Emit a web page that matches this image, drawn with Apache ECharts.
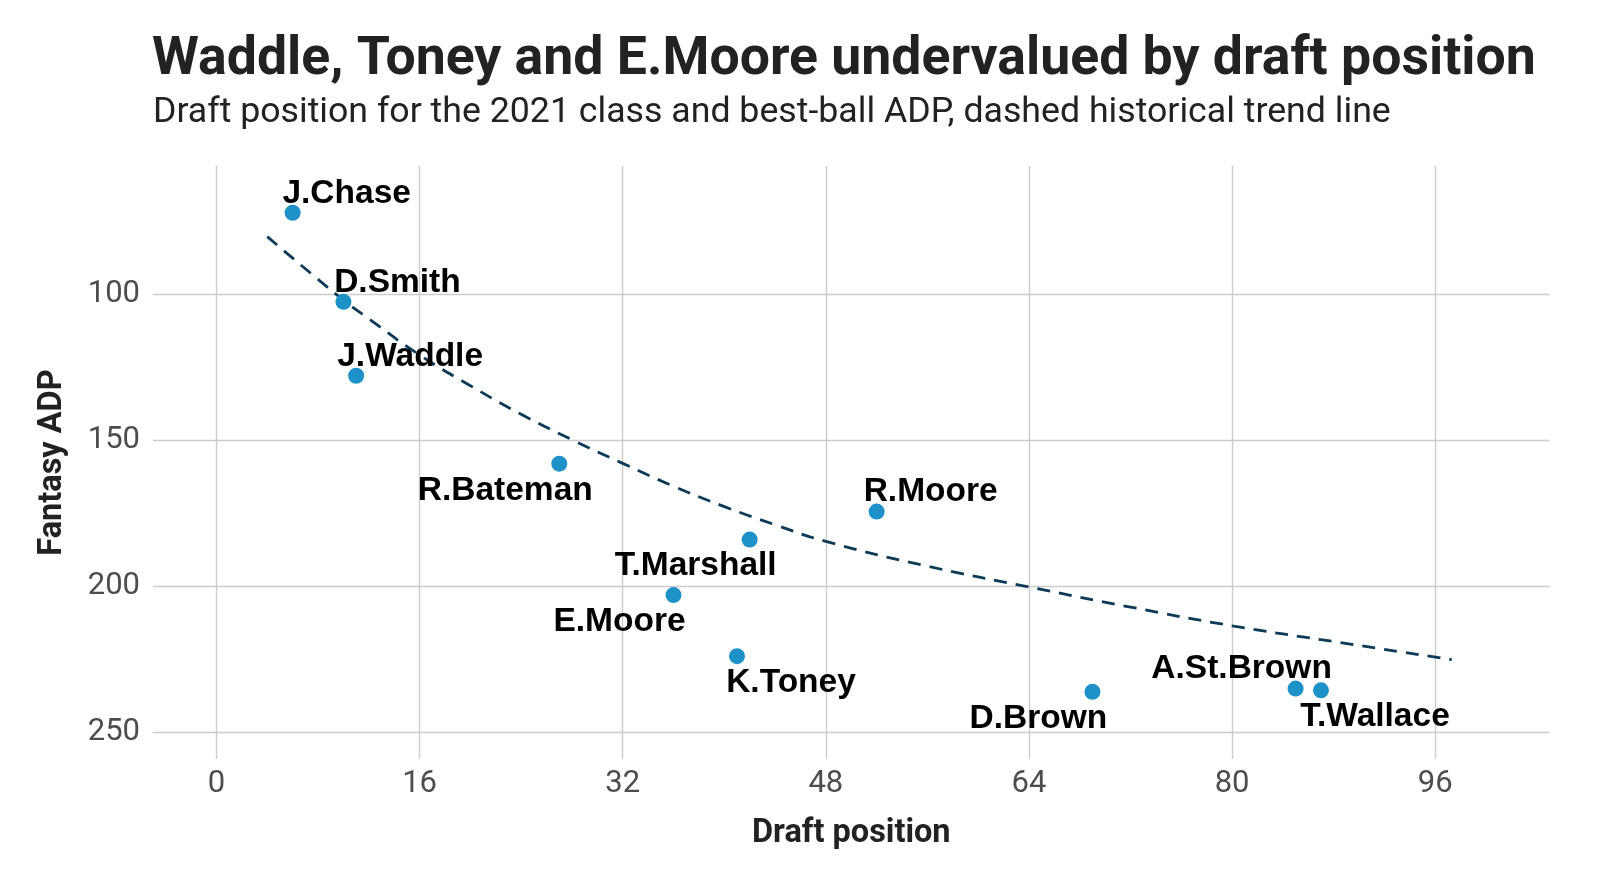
<!DOCTYPE html>
<html>
<head>
<meta charset="utf-8">
<script src="https://cdn.jsdelivr.net/npm/echarts@6/dist/echarts.min.js"></script>
<style>
  html, body { margin: 0; padding: 0; background: #ffffff; }
  #chart { width: 1600px; height: 896px; }
</style>
</head>
<body>
<div id="chart"></div>
<script>
// ---- Data ----
const players      = ['J.Chase', 'D.Smith', 'J.Waddle', 'R.Bateman', 'R.Moore', 'T.Marshall', 'E.Moore', 'K.Toney', 'D.Brown', 'A.St.Brown', 'T.Wallace'];
const draftPos     = [6, 10, 11, 27, 52, 42, 36, 41, 69, 85, 87];
const fantasyADP   = [72, 102.5, 127.8, 157.9, 174.3, 183.9, 202.9, 223.8, 236, 234.9, 235.5];

// dashed historical trend line
const trendX = [4, 8, 10, 12, 16, 20, 24, 28, 32, 36, 40, 44, 48, 56, 64, 72, 80, 88, 97.3];
const trendY = [80.2, 94.8, 101.9, 108.3, 120.7, 131.2, 141, 149.7, 157.8, 165.6, 172.6, 178.8, 184.5, 193, 200.1, 207, 213.4, 218.8, 225];

const xTicks = [0, 16, 32, 48, 64, 80, 96];
const yTicks = [100, 150, 200, 250];

// ---- Label placement (style, kept separate from data) ----
const labelSide = ['ne', 'ne', 'ne', 'sw', 'ne', 'sw', 'sw', 'se', 'sw', 'nw', 'se'];
const sideOffset = { ne: [54, -19.4], nw: [-54, -19.4], se: [54, 26.6], sw: [-54, 26.6] };

const pointData = players.map((p, i) => ({ name: p, value: [draftPos[i], fantasyADP[i]] }));
const trendData = trendX.map((x, i) => [x, trendY[i]]);

const chart = echarts.init(document.getElementById('chart'), null, { renderer: 'canvas' });

const tickFont = { color: '#4d4d4d', fontFamily: 'Roboto', fontSize: 31 };
const gridLine = { show: true, lineStyle: { color: '#cccccc', width: 1.4 } };

chart.setOption({
  backgroundColor: '#ffffff',
  animation: false,
  title: [
    {
      text: 'Waddle, Toney and E.Moore undervalued by draft position',
      left: 147, top: 29,
      textStyle: { fontFamily: 'Roboto', fontWeight: 'bold', fontSize: 53.6, color: '#222222' }
    },
    {
      text: 'Draft position for the 2021 class and best-ball ADP, dashed historical trend line',
      left: 148, top: 90,
      textStyle: { fontFamily: 'Roboto', fontWeight: 'normal', fontSize: 35.7, color: '#222222' }
    }
  ],
  grid: { left: 153, right: 50.5, top: 166, bottom: 137, containLabel: false },
  xAxis: {
    type: 'value',
    min: -5, max: 105,
    name: 'Draft position',
    nameLocation: 'middle',
    nameGap: 58,
    nameTextStyle: { fontFamily: 'Roboto', fontWeight: 'bold', fontSize: 32.5, color: '#222222' },
    axisLine: { show: false, onZero: false },
    axisTick: { show: false, customValues: xTicks },
    axisLabel: Object.assign({ margin: 10, customValues: xTicks }, tickFont),
    splitLine: Object.assign({ customValues: xTicks }, gridLine)
  },
  yAxis: {
    type: 'value',
    inverse: true,
    min: 56, max: 259,
    name: 'Fantasy ADP',
    nameLocation: 'middle',
    nameGap: 84,
    nameTextStyle: { fontFamily: 'Roboto', fontWeight: 'bold', fontSize: 32.5, color: '#222222' },
    axisLine: { show: false, onZero: false },
    axisTick: { show: false, customValues: yTicks },
    axisLabel: Object.assign({ margin: 13, customValues: yTicks }, tickFont),
    splitLine: Object.assign({ customValues: yTicks }, gridLine)
  },
  series: [
    {
      type: 'line',
      data: trendData,
      showSymbol: false,
      symbol: 'none',
      smooth: true,
      silent: true,
      z: 2,
      lineStyle: { color: '#0d3a58', width: 2.8, type: [13, 9] }
    },
    {
      type: 'scatter',
      data: pointData,
      symbolSize: 16,
      z: 3,
      itemStyle: { color: '#1d91c8', opacity: 1 },
      label: {
        show: true,
        position: 'inside',
        formatter: '{b}',
        align: 'center',
        verticalAlign: 'middle',
        fontFamily: 'Liberation Sans',
        fontWeight: 'bold',
        fontSize: 33.5,
        color: '#000000'
      },
      labelLayout: function (params) {
        const off = sideOffset[labelSide[params.dataIndex]];
        return { dx: off[0], dy: off[1], hideOverlap: false };
      }
    }
  ]
});
</script>
</body>
</html>
